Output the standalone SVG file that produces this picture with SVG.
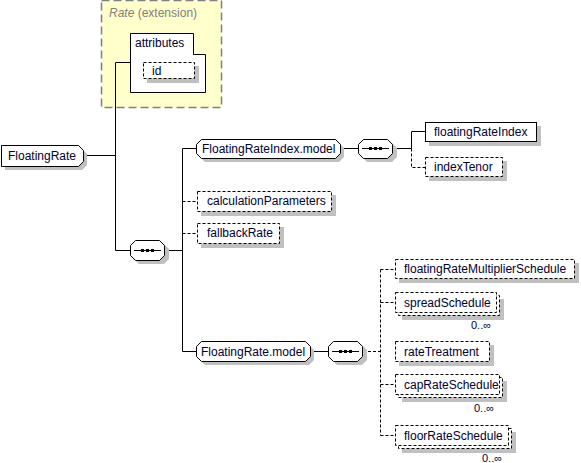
<svg xmlns="http://www.w3.org/2000/svg" width="581" height="463" viewBox="0 0 581 463">
<style>
text{font-family:"Liberation Sans",Arial,sans-serif;font-size:12px;fill:#000033}
.sh{fill:#c0c0c0;stroke:none}
.box{fill:#fff;stroke:#000;stroke-width:1}
.opt{fill:#fff;stroke:#000;stroke-width:1;stroke-dasharray:3,2}
.ln{fill:none;stroke:#000;stroke-width:1}
.dl{fill:none;stroke:#000;stroke-width:1;stroke-dasharray:3,2}
.occ{font-size:11px}
</style>
<rect width="581" height="463" fill="#fff"/>
<g id="ext">
<rect x="101.5" y="0.5" width="120" height="107" fill="#ffffcc" stroke="#808080" stroke-width="1.5" stroke-dasharray="8,4"/>
<text x="109" y="17" style="fill:#808080"><tspan font-style="italic">Rate</tspan> (extension)</text>
</g>
<g id="attributes">
<path class="box" d="M130.5,33.5 H193.5 V54.5 H205.5 V92.5 H130.5 Z"/>
<text x="135" y="47">attributes</text>
</g>
<g id="id">
<rect class="sh" x="147" y="66" width="52" height="17"/>
<rect class="opt" x="143.5" y="62.5" width="51" height="16"/>
<text x="152" y="75">id</text>
</g>
<g id="connectors">
<path class="ln" d="M115.5,62.5 H130.5 M115.5,62.5 V250.5 H130.5 M83,155.5 H115.5"/>
<path class="ln" d="M165,250.5 H182.5 M182.5,148.5 V351.5 M182.5,148.5 H197 M182.5,351.5 H197"/>
<path class="dl" d="M182.5,201.5 H197 M182.5,233.5 H197"/>
<path class="ln" d="M340,148.5 H358 M393,148.5 H411.5 M411.5,148.5 V131.5 H425"/>
<path class="dl" d="M411.5,148.5 V167.5 H425"/>
<path class="ln" d="M310,351.5 H328"/>
<path class="dl" d="M363,351.5 H380.5 M380.5,269.5 V435.5 M380.5,269.5 H395 M380.5,302.5 H395 M380.5,384.5 H395 M380.5,435.5 H395"/>
</g>
<g id="FloatingRate">
<path class="sh" d="M5,149 H82 L87,154 V165 L82,170 H5 Z"/>
<path class="box" d="M1.5,145.5 H78.5 L83.5,150.5 V161.5 L78.5,166.5 H1.5 Z"/>
<text x="8" y="160">FloatingRate</text>
</g>
<g id="seq1">
<path class="sh" d="M139,244 H164 L169,249 V259 L164,264 H139 L134,259 V249 Z"/>
<path class="box" d="M135.5,240.5 H159.5 L164.5,245.5 V255.5 L159.5,260.5 H135.5 L130.5,255.5 V245.5 Z"/>
<path class="ln" d="M134,250.5 H161"/>
<rect x="141" y="249" width="3" height="3" fill="#000"/><rect x="146" y="249" width="3" height="3" fill="#000"/><rect x="151" y="249" width="3" height="3" fill="#000"/>
</g>
<g id="FloatingRateIndex.model">
<path class="sh" d="M205,143 H339 L344,148 V157 L339,162 H205 L200,157 V148 Z"/>
<path class="box" d="M201.5,139.5 H335.5 L340.5,144.5 V153.5 L335.5,158.5 H201.5 L196.5,153.5 V144.5 Z"/>
<text x="202" y="153">FloatingRateIndex.model</text>
</g>
<g id="seq2">
<path class="sh" d="M367,143 H392 L397,148 V157 L392,162 H367 L362,157 V148 Z"/>
<path class="box" d="M363.5,139.5 H387.5 L392.5,144.5 V153.5 L387.5,158.5 H363.5 L358.5,153.5 V144.5 Z"/>
<path class="ln" d="M362,148.5 H389"/>
<rect x="369" y="147" width="3" height="3" fill="#000"/><rect x="374" y="147" width="3" height="3" fill="#000"/><rect x="379" y="147" width="3" height="3" fill="#000"/>
</g>
<g id="floatingRateIndex">
<rect class="sh" x="429" y="126" width="112" height="20"/>
<rect class="box" x="425.5" y="122.5" width="111" height="19"/>
<text x="434" y="136">floatingRateIndex</text>
</g>
<g id="indexTenor">
<rect class="sh" x="429" y="161" width="78" height="20"/>
<rect class="opt" x="425.5" y="157.5" width="77" height="19"/>
<text x="434" y="171">indexTenor</text>
</g>
<g id="calculationParameters">
<rect class="sh" x="201" y="195" width="135" height="21"/>
<rect class="opt" x="197.5" y="191.5" width="134" height="20"/>
<text x="207" y="205">calculationParameters</text>
</g>
<g id="fallbackRate">
<rect class="sh" x="201" y="227" width="83" height="21"/>
<rect class="opt" x="197.5" y="223.5" width="82" height="20"/>
<text x="207" y="237">fallbackRate</text>
</g>
<g id="FloatingRate.model">
<path class="sh" d="M205,345 H309 L314,350 V360 L309,365 H205 L200,360 V350 Z"/>
<path class="box" d="M201.5,341.5 H305.5 L310.5,346.5 V356.5 L305.5,361.5 H201.5 L196.5,356.5 V346.5 Z"/>
<text x="201" y="356">FloatingRate.model</text>
</g>
<g id="seq3">
<path class="sh" d="M337,345 H362 L367,350 V360 L362,365 H337 L332,360 V350 Z"/>
<path class="box" d="M333.5,341.5 H357.5 L362.5,346.5 V356.5 L357.5,361.5 H333.5 L328.5,356.5 V346.5 Z"/>
<path class="ln" d="M332,351.5 H359"/>
<rect x="339" y="350" width="3" height="3" fill="#000"/><rect x="344" y="350" width="3" height="3" fill="#000"/><rect x="349" y="350" width="3" height="3" fill="#000"/>
</g>
<g id="floatingRateMultiplierSchedule">
<rect class="sh" x="399" y="263" width="180" height="20"/>
<rect class="opt" x="395.5" y="259.5" width="179" height="19"/>
<text x="404" y="273">floatingRateMultiplierSchedule</text>
</g>
<g id="spreadSchedule">
<rect class="sh" x="402" y="299" width="102" height="21"/>
<rect class="opt" x="398.5" y="295.5" width="101" height="20"/>
<rect class="opt" x="395.5" y="292.5" width="101" height="20"/>
<text x="404" y="307">spreadSchedule</text>
<text class="occ" x="471" y="329">0..∞</text>
</g>
<g id="rateTreatment">
<rect class="sh" x="399" y="345" width="95" height="21"/>
<rect class="opt" x="395.5" y="341.5" width="94" height="20"/>
<text x="404" y="356">rateTreatment</text>
</g>
<g id="capRateSchedule">
<rect class="sh" x="402" y="381" width="105" height="21"/>
<rect class="opt" x="398.5" y="377.5" width="104" height="20"/>
<rect class="opt" x="395.5" y="374.5" width="104" height="20"/>
<text x="404" y="389">capRateSchedule</text>
<text class="occ" x="474" y="412">0..∞</text>
</g>
<g id="floorRateSchedule">
<rect class="sh" x="402" y="432" width="114" height="21"/>
<rect class="opt" x="398.5" y="428.5" width="113" height="20"/>
<rect class="opt" x="395.5" y="425.5" width="113" height="20"/>
<text x="404" y="440">floorRateSchedule</text>
<text class="occ" x="482" y="462">0..∞</text>
</g>
</svg>
